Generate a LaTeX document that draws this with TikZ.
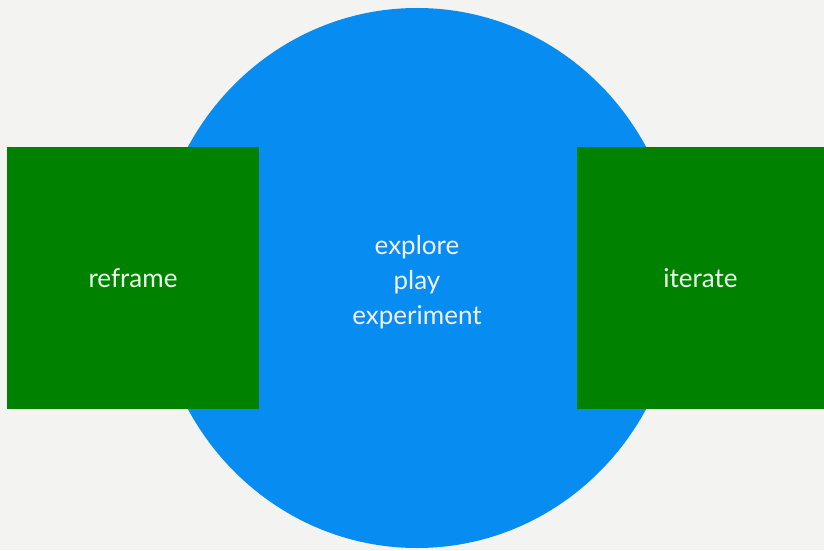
\documentclass[tikz,border=0pt]{standalone}
\usepackage{fontspec}
\setmainfont{Lato}
\definecolor{bggray}{HTML}{F3F3F2}
\definecolor{discblue}{HTML}{078DF2}
\definecolor{boxgreen}{HTML}{008200}
\begin{document}
\begin{tikzpicture}[x=1pt,y=1pt,
  panel/.style={fill=boxgreen,minimum height=262pt,inner sep=0pt,text=white!92!green,font=\fontsize{26}{30}\selectfont}]
  \fill[bggray] (0,0) rectangle (824,550);
  \fill[discblue] (417,272) ellipse [x radius=262, y radius=270];
  \node[panel,minimum width=252pt] (reframe) at (133,272) {reframe};
  \node[panel,minimum width=247pt] (iterate) at (700.5,272) {iterate};
  \node[align=center,text=white!94!blue,font=\fontsize{26}{35}\selectfont] (core) at (417,268) {explore\\play\\experiment};
\end{tikzpicture}
\end{document}
